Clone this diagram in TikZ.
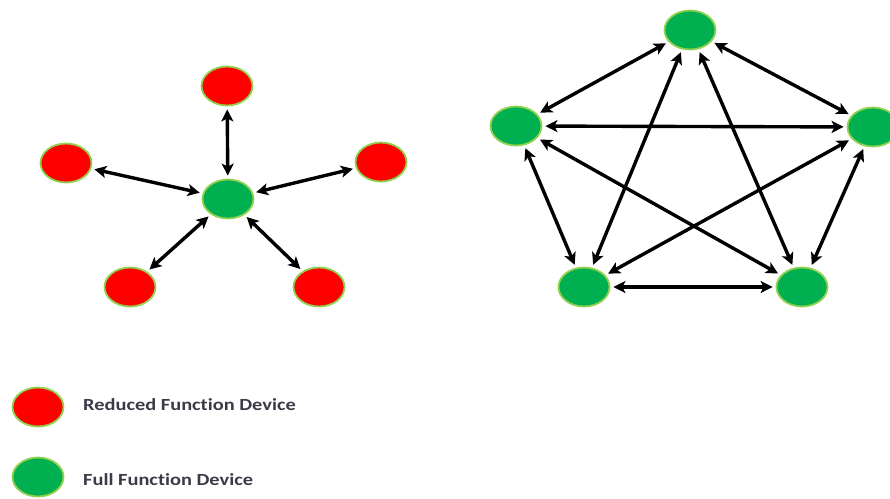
\documentclass[tikz,border=0pt]{standalone}
\usepackage{fontspec}
\setmainfont{Carlito}[Ligatures={NoCommon,NoRare,NoDiscretionary}]
\usetikzlibrary{arrows.meta,shapes.geometric}
\definecolor{ffdgreen}{HTML}{00B050}
\definecolor{rfdred}{HTML}{FF0000}
\definecolor{rimgreen}{HTML}{92D050}
\definecolor{labelgray}{HTML}{3A3A48}
\tikzset{
  device/.style={ellipse, draw=rimgreen, line width=1.8pt, minimum width=51pt, minimum height=39pt, inner sep=0pt},
  rfd/.style={device, fill=rfdred},
  ffd/.style={device, fill=ffdgreen},
  link/.style={line width=3.4pt, black, {Stealth[length=12pt,width=12pt,inset=3pt]}-{Stealth[length=12pt,width=12pt,inset=3pt]}, shorten <=3pt, shorten >=3pt},
  legendtext/.style={anchor=west, text=labelgray, font=\fontsize{17}{20}\selectfont\bfseries, inner sep=0pt, xscale=1.2, transform shape}
}
\begin{document}
\begin{tikzpicture}[x=1pt,y=-1pt]
\useasboundingbox (0,0) rectangle (890,498);

% star topology: one coordinator with reduced function devices
\node[ffd] (c)  at (228,199) {};
\node[rfd] (s1) at (227,86) {};
\node[rfd] (s2) at (66,163) {};
\node[rfd] (s3) at (381,162) {};
\node[rfd] (s4) at (130,287) {};
\node[rfd] (s5) at (319,287) {};

\draw[link] (c) -- (s1);
\draw[link] (c) -- (s2);
\draw[link] (c) -- (s3);
\draw[link] (c) -- (s4);
\draw[link] (c) -- (s5);

% mesh topology: fully connected full function devices
\node[ffd] (m1) at (690,30) {};
\node[ffd] (m2) at (516,126) {};
\node[ffd] (m3) at (873,127) {};
\node[ffd] (m4) at (584,287) {};
\node[ffd] (m5) at (802,287) {};

\draw[link] (m1) -- (m2);
\draw[link] (m1) -- (m3);
\draw[link] (m2) -- (m3);
\draw[link] (m1) -- (m4);
\draw[link] (m1) -- (m5);
\draw[link] (m2) -- (m4);
\draw[link] (m2) -- (m5);
\draw[link] (m3) -- (m4);
\draw[link] (m3) -- (m5);
\draw[link] (m4) -- (m5);

% legend
\node[rfd] (l1) at (38,407) {};
\node[ffd] (l2) at (38,477) {};
\node[legendtext] (t1) at (83,405) {Reduced Function Device};
\node[legendtext] (t2) at (83,480) {Full Function Device};
\end{tikzpicture}
\end{document}
